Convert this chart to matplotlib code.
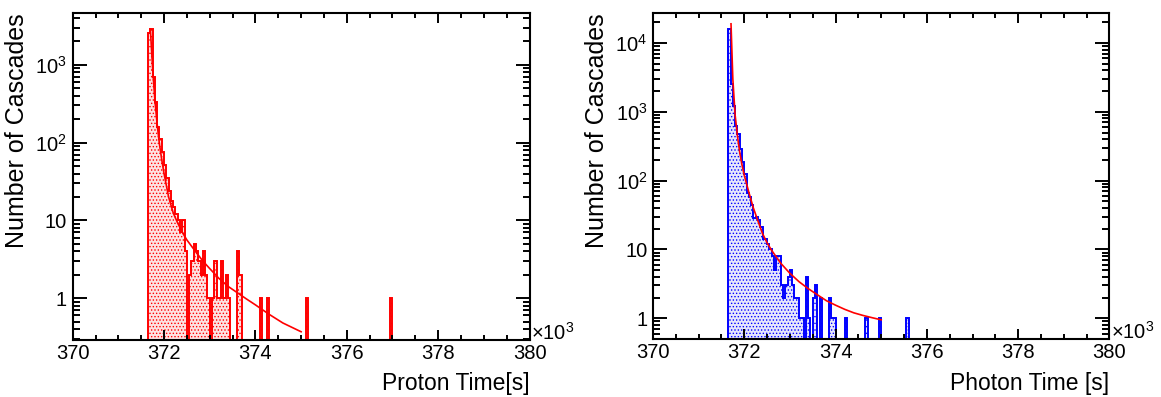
import numpy as np
import matplotlib
matplotlib.use("Agg")
import matplotlib.pyplot as plt
from matplotlib.ticker import FixedLocator, NullFormatter

plt.rcParams['font.family'] = ['Liberation Sans', 'DejaVu Sans']
plt.rcParams['mathtext.fontset'] = 'custom'
plt.rcParams['mathtext.rm'] = 'Liberation Sans'
plt.rcParams['mathtext.it'] = 'Liberation Sans:italic'
plt.rcParams['hatch.linewidth'] = 0.6

# histogram binning (x in units of 10^3 s)
bin_start = 371.65
bin_width = 0.05

# proton arrival times: counts per bin
proton_counts = [
    2600, 2900, 700, 330, 160, 110, 75, 52, 35, 24,
    18, 15, 12, 10, 7, 10, 4, 0, 2, 3,
    5, 4, 3, 2, 4, 2, 1, 0, 1, 3,
    1, 1, 3, 1, 2, 1, 0, 0, 0, 4,
    2, 0, 0, 0, 0, 0, 0, 0, 0, 1,
    0, 0, 1, 0, 0, 0, 0, 0, 0, 0,
    0, 0, 0, 0, 0, 0, 0, 0, 0, 1,
    0, 0, 0, 0, 0, 0, 0, 0, 0, 0,
    0, 0, 0, 0, 0, 0, 0, 0, 0, 0,
    0, 0, 0, 0, 0, 0, 0, 0, 0, 0,
    0, 0, 0, 0, 0, 0, 1,
]
proton_fit_t = [371.70, 371.75, 371.80, 371.85, 371.90, 371.95, 372.00, 372.10,
                372.20, 372.30, 372.40, 372.50, 372.70, 372.85, 373.00, 373.20,
                373.40, 373.60, 373.80, 374.00, 374.30, 374.60, 375.00]
proton_fit_v = [2900, 900, 350, 170, 95, 60, 40, 20,
                12.5, 9.2, 7.0, 5.6, 3.9, 3.0, 2.4, 1.8,
                1.42, 1.18, 0.98, 0.82, 0.62, 0.48, 0.37]

# photon arrival times: counts per bin
photon_counts = [
    16000, 2500, 1200, 620, 470, 290, 185, 125, 66, 58,
    45, 29, 30, 27, 21, 14, 14, 12, 10, 8,
    5, 8, 8, 3, 2, 3, 4, 5, 3, 2,
    2, 1, 1, 0, 4, 1, 0, 2, 3, 0,
    2, 0, 0, 0, 2, 1, 1, 0, 0, 0,
    0, 1, 0, 0, 0, 0, 0, 0, 0, 0,
    1, 0, 0, 0, 0, 0, 1, 0, 0, 0,
    0, 0, 0, 0, 0, 0, 0, 0, 1,
]
photon_fit_t = [371.71, 371.75, 371.80, 371.85, 371.90, 371.95, 372.00, 372.10,
                372.20, 372.30, 372.40, 372.50, 372.60, 372.80, 373.00, 373.20,
                373.40, 373.60, 373.80, 374.00, 374.20, 374.40, 374.60, 374.80, 375.00]
photon_fit_v = [19000, 3000, 900, 450, 260, 170, 120, 68,
                40, 26, 17, 12.5, 9.7, 6.3, 4.5, 3.4,
                2.7, 2.2, 1.8, 1.55, 1.35, 1.2, 1.1, 1.02, 0.95]

panels = [
    dict(counts=proton_counts, fit_t=proton_fit_t, fit_v=proton_fit_v,
         color='#ff0000', fill='#fde2e2', ylim=(0.29, 4600), yticks=[1, 10, 100, 1000],
         ylabels=['1', '10', r'$10^{2}$', r'$10^{3}$'],
         xlabel='Proton Time[s]', rect=[0.0626, 0.1436, 0.3935, 0.823], lab_x=0.0146),
    dict(counts=photon_counts, fit_t=photon_fit_t, fit_v=photon_fit_v,
         color='#0000ff', fill='#e6e6fc', ylim=(0.5, 27000), yticks=[1, 10, 100, 1000, 10000],
         ylabels=['1', '10', r'$10^{2}$', r'$10^{3}$', r'$10^{4}$'],
         xlabel='Photon Time [s]', rect=[0.5624, 0.1461, 0.3932, 0.8204], lab_x=0.514),
]

fig = plt.figure(figsize=(11.61, 3.97), dpi=100)

for p in panels:
    ax = fig.add_axes(p['rect'])
    ax.set_yscale('log')
    counts = np.array(p['counts'], dtype=float)
    edges = bin_start + bin_width * np.arange(len(counts) + 1)
    ymin = p['ylim'][0]
    shown = np.where(counts > 0, counts, ymin * 0.5)

    ax.stairs(shown, edges, baseline=ymin * 0.5, fill=True, facecolor=p['fill'],
              edgecolor=p['color'], hatch='.....', linewidth=0)
    ax.stairs(shown, edges, baseline=ymin * 0.5, fill=False,
              edgecolor=p['color'], linewidth=1.4)
    ax.plot(p['fit_t'], p['fit_v'], color='#ff0000', linewidth=1.2)

    ax.set_xlim(370, 380)
    ax.set_ylim(*p['ylim'])
    ax.set_xticks([370, 372, 374, 376, 378, 380])
    ax.xaxis.set_minor_locator(FixedLocator(np.arange(370, 380.01, 0.5)))
    ax.set_yticks(p['yticks'])
    ax.set_yticklabels(p['ylabels'])
    minors = [m * 10.0 ** e for e in range(-1, 5) for m in range(2, 10)]
    ax.yaxis.set_minor_locator(FixedLocator(minors))
    ax.yaxis.set_minor_formatter(NullFormatter())

    ax.tick_params(axis='both', which='both', direction='in', top=True, right=True,
                   width=1.4, labelsize=14.5)
    ax.tick_params(axis='x', which='major', length=7, pad=3)
    ax.tick_params(axis='x', which='minor', length=3.6)
    ax.tick_params(axis='y', which='major', length=10, pad=4)
    ax.tick_params(axis='y', which='minor', length=5)
    for s in ax.spines.values():
        s.set_linewidth(1.5)

    ax.text(1.004, 0.0, r'$\times10^{3}$', transform=ax.transAxes,
            ha='left', va='baseline', fontsize=14.5)

    x0, y0, w, h = p['rect']
    fig.text(x0 + w, 0.035, p['xlabel'], ha='right', va='center', fontsize=16.5)
    fig.text(p['lab_x'], 0.967, 'Number of Cascades', rotation=90,
             ha='center', va='top', fontsize=18)

fig.savefig('out.png', dpi=100)
